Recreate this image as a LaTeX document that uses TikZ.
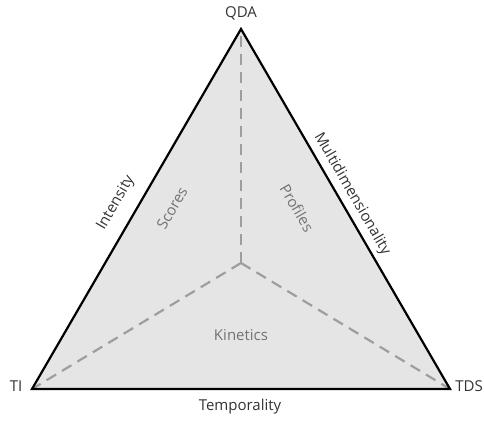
\documentclass[tikz,border=0pt]{standalone}
\usepackage{fontspec}
\setmainfont{Open Sans}
\begin{document}
\begin{tikzpicture}[x=1pt,y=-1pt,
  lbl/.style={font=\fontsize{15}{18}\selectfont, text=black!80, inner sep=0pt},
  inlbl/.style={font=\fontsize{15}{18}\selectfont, text=black!55, inner sep=0pt},
  edge/.style={draw=black, line width=2.2pt, line join=miter},
  spoke/.style={draw=black!38, line width=2.2pt, dash pattern=on 11pt off 7pt}]
\useasboundingbox (0,0) rectangle (484,420);
\coordinate (A) at (241,29);
\coordinate (B) at (32,389);
\coordinate (C) at (450,389);
\coordinate (O) at (241,263);
\fill[black!10] (A) -- (B) -- (C) -- cycle;
\draw[spoke] (O) -- (A);
\draw[spoke] (O) -- (B);
\draw[spoke] (O) -- (C);
\draw[edge] (A) -- (B) -- (C) -- cycle;
\node[lbl] (qda) at (241,13) {QDA};
\node[lbl] (ti) at (16,386) {TI};
\node[lbl] (tds) at (469,386) {TDS};
\node[lbl] (temp) at (240,407) {Temporality};
\node[lbl, rotate=60] (int) at (116,203) {Intensity};
\node[lbl, rotate=-60] (multi) at (352,194) {Multidimensionality};
\node[inlbl, rotate=60] (scores) at (172,208) {Scores};
\node[inlbl, rotate=-60] (prof) at (297,208) {Profiles};
\node[inlbl] (kin) at (241,335) {Kinetics};
\end{tikzpicture}
\end{document}
